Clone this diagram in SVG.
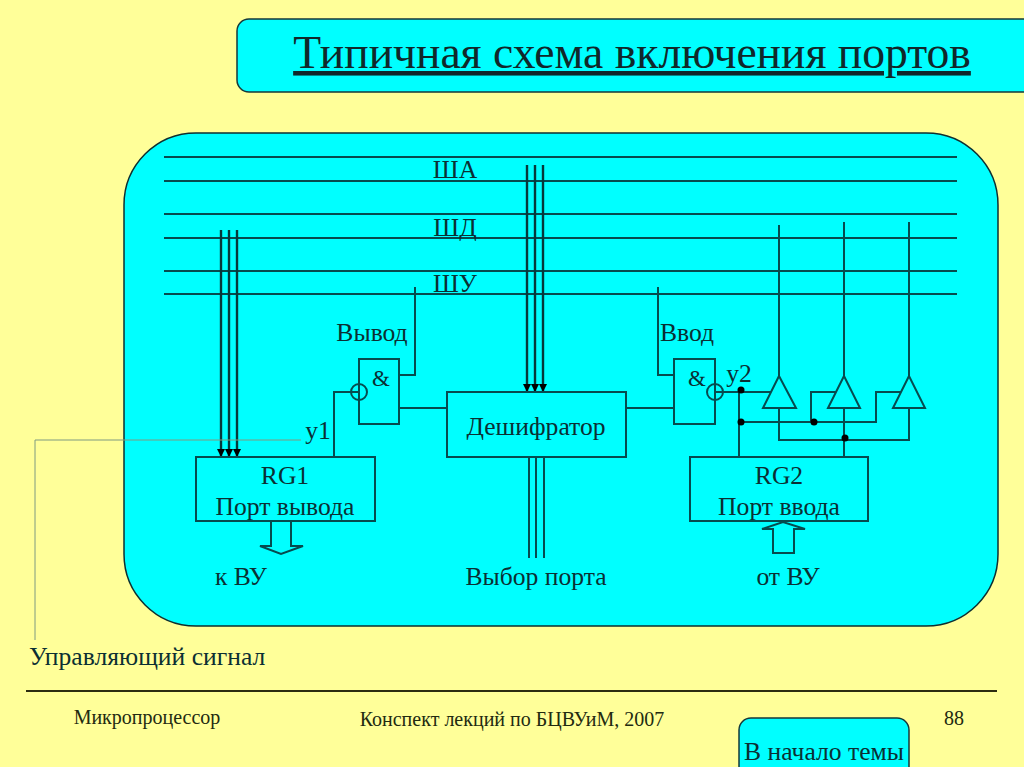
<svg xmlns="http://www.w3.org/2000/svg" width="1024" height="767" viewBox="0 0 1024 767">
<defs><marker id="ah" markerUnits="userSpaceOnUse" markerWidth="10" markerHeight="10" refX="8" refY="4" orient="auto"><path d="M0 0L8 4L0 8Z" fill="#000"/></marker></defs>
<style>
text{font-family:"Liberation Serif","Times New Roman",serif;fill:#0b2f33;font-size:25.6px}
.m{text-anchor:middle}
.l{fill:none;stroke:#064b4f;stroke-width:2}
.k{fill:none;stroke:#06383b;stroke-width:2.4}
.b{fill:#00ffff;stroke:#064b4f;stroke-width:2}
.d{fill:#000}
.f{font-size:20px;fill:#222a10}
.amp{font-size:23px}
</style>
<rect width="1024" height="767" fill="#ffff99"/>
<g id="title"><rect x="237" y="19" width="800" height="73" rx="12" fill="#00ffff" stroke="#17393a" stroke-width="1.5"/>
<text x="632" y="68" class="m" style="font-size:45.6px;text-decoration:underline;fill:#10282a">Типичная схема включения портов</text></g>
<g id="panel"><rect x="124" y="133" width="874" height="493" rx="72" fill="#00ffff" stroke="#0c2f31" stroke-width="1.5"/></g>
<g id="connectors">
<path class="l" d="M164 157H957M164 181H957M164 214H957M164 238H957M164 271H957M164 294H957"/>
<path class="k" marker-end="url(#ah)" d="M221 230V457"/><path class="k" marker-end="url(#ah)" d="M229 230V457"/><path class="k" marker-end="url(#ah)" d="M237 230V457"/>
<path class="k" marker-end="url(#ah)" d="M527 165V392"/><path class="k" marker-end="url(#ah)" d="M535 165V392"/><path class="k" marker-end="url(#ah)" d="M543 165V392"/>
<path d="M35 640V440H301" fill="none" stroke="#7f9a80" stroke-width="1"/>
<path class="l" d="M334 457V392H351M399 375H415V287M399 408H447M626 408H674M674 375H658V287M723 392H771M739 392V457M739 422H876V392H901M811 422V392H836M779 376V225M844 376V222M909 376V222M779 408V440H909V408M844 408V457"/>
<path class="l" d="M529 457V558M536 457V558M544 457V558"/>
</g>
<g id="and1"><rect class="b" x="359" y="359" width="40" height="65"/><circle class="l" cx="359" cy="392" r="8"/><path class="l" d="M351 392H359"/><text x="381" y="386" class="m amp">&amp;</text></g>
<g id="and2"><rect class="b" x="674" y="359" width="41" height="65"/><circle class="l" cx="715" cy="392" r="8"/><path class="l" d="M715 392H723"/><text x="697" y="386" class="m amp">&amp;</text></g>
<g id="decoder"><rect class="b" x="447" y="392" width="179" height="65"/><text x="536" y="435" class="m">Дешифратор</text></g>
<g id="rg1"><rect class="b" x="196" y="457" width="179" height="64"/><text x="285" y="484" class="m">RG1</text><text x="285" y="515" class="m">Порт вывода</text></g>
<g id="rg2"><rect class="b" x="690" y="457" width="178" height="64"/><text x="779" y="484" class="m">RG2</text><text x="779" y="515" class="m">Порт ввода</text></g>
<g id="buffers"><path class="b" d="M779 376L763 408H796Z"/><path class="b" d="M844 376L828 408H860Z"/><path class="b" d="M909 376L893 408H925Z"/></g>
<g id="dots"><circle class="d" cx="741" cy="390" r="3.5"/><circle class="d" cx="741" cy="422" r="3.5"/><circle class="d" cx="814" cy="422" r="3.5"/><circle class="d" cx="845" cy="438" r="3.5"/></g>
<g id="arrows"><path class="l" d="M271 521V546H260L281 554L303 546H291V521" fill="#00ffff"/><path class="l" d="M773 553V529H762L783 522L805 529H794V553Z" fill="#00ffff"/></g>
<g id="labels">
<text x="455" y="178" class="m">ША</text><text x="455" y="236" class="m">ШД</text><text x="455" y="292" class="m">ШУ</text>
<text x="372" y="341" class="m">Вывод</text><text x="687" y="341" class="m">Ввод</text>
<text x="318" y="439" class="m">у1</text><text x="739" y="382" class="m">у2</text>
<text x="241" y="585" class="m">к ВУ</text><text x="536" y="585" class="m">Выбор порта</text><text x="788" y="585" class="m">от ВУ</text>
<text x="29" y="665">Управляющий сигнал</text>
</g>
<g id="footer"><path d="M26 691H997" stroke="#2c2c10" stroke-width="2"/>
<text x="147" y="724" class="m f">Микропроцессор</text><text x="512" y="726" class="m f">Конспект лекций по БЦВУиМ, 2007</text><text x="954" y="725" class="m f">88</text>
<rect x="739" y="718" width="170" height="70" rx="12" fill="#00ffff" stroke="#17393a" stroke-width="1.5"/><text x="824" y="760" class="m">В начало темы</text></g>
</svg>
